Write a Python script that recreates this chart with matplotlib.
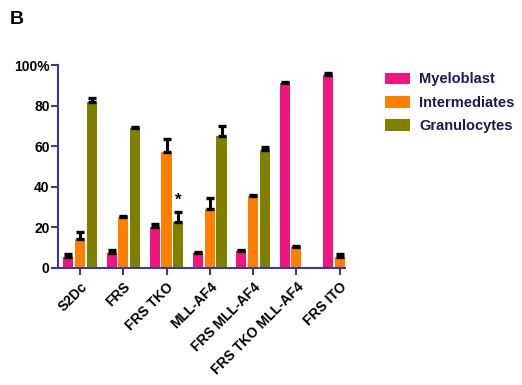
import numpy as np
import matplotlib
matplotlib.use("Agg")
import matplotlib.pyplot as plt

# groups and values (%)
groups = ["S2Dc", "FRS", "FRS TKO", "MLL-AF4", "FRS MLL-AF4", "FRS TKO MLL-AF4", "FRS ITO"]
myeloblast = [5.6, 7.5, 20.3, 7.2, 8.4, 91.0, 95.1]
myeloblast_err = [1.4, 1.4, 1.3, 0.9, 0.6, 0.5, 0.9]
intermediates = [14.3, 25.3, 57.3, 29.0, 35.5, 10.5, 5.6]
intermediates_err = [3.3, 0.5, 6.2, 5.6, 0.4, 0.4, 1.3]
granulocytes = [81.6, 68.8, 22.8, 65.0, 58.1, np.nan, np.nan]
granulocytes_err = [2.3, 0.6, 4.9, 5.0, 1.3, np.nan, np.nan]

c_myelo = "#F0167F"
c_inter = "#FF8000"
c_gran = "#808000"
c_axis = "#3C3C8C"
c_leg = "#1A1A50"

plt.rcParams["font.family"] = ["Liberation Sans", "DejaVu Sans"]

fig = plt.figure(figsize=(5.22, 3.85), dpi=100)
ax = fig.add_axes([0.111, 0.304, 0.55, 0.527])

x = np.arange(len(groups))
w = 0.235
off = 0.27
ekw = dict(elinewidth=2.2, capthick=2.4, ecolor="black")

def upper(err):
    return [np.zeros(len(err)), err]

ax.bar(x - off, myeloblast, w, color=c_myelo, label="Myeloblast",
       yerr=upper(myeloblast_err), capsize=3, error_kw=ekw)
ax.bar(x, intermediates, w, color=c_inter, label="Intermediates",
       yerr=upper(intermediates_err), capsize=3, error_kw=ekw)
ax.bar(x + off, granulocytes, w, color=c_gran, label="Granulocytes",
       yerr=upper(granulocytes_err), capsize=3, error_kw=ekw)

# significance star
ax.text(x[2] + off, granulocytes[2] + granulocytes_err[2] + 2, "*",
        ha="center", va="bottom", fontsize=12, fontweight="bold")

ax.set_xlim(-0.51, 6.125)
ax.set_ylim(0, 100)
ax.set_yticks([0, 20, 40, 60, 80, 100])
ax.set_yticklabels(["0", "20", "40", "60", "80", "100%"], fontweight="bold", fontsize=10)
ax.set_xticks(x)
ax.set_xticklabels(groups, rotation=45, ha="right", rotation_mode="anchor",
                   fontweight="bold", fontsize=10)

for s in ["top", "right"]:
    ax.spines[s].set_visible(False)
for s in ["left", "bottom"]:
    ax.spines[s].set_color(c_axis)
    ax.spines[s].set_linewidth(1.5)
ax.tick_params(axis="both", colors=c_axis, width=1.5, length=5, labelcolor="black")
ax.tick_params(axis="y", pad=1)

leg = fig.legend(loc="upper left", bbox_to_anchor=(0.712, 0.846), frameon=False,
                 prop=dict(size=10.5, weight="bold"), handlelength=1.76,
                 handleheight=0.86, labelspacing=0.64, handletextpad=0.6)
for t in leg.get_texts():
    t.set_color(c_leg)

fig.text(0.019, 0.938, "B", fontsize=14, fontweight="bold", va="baseline")

fig.savefig("out.png", dpi=100)
